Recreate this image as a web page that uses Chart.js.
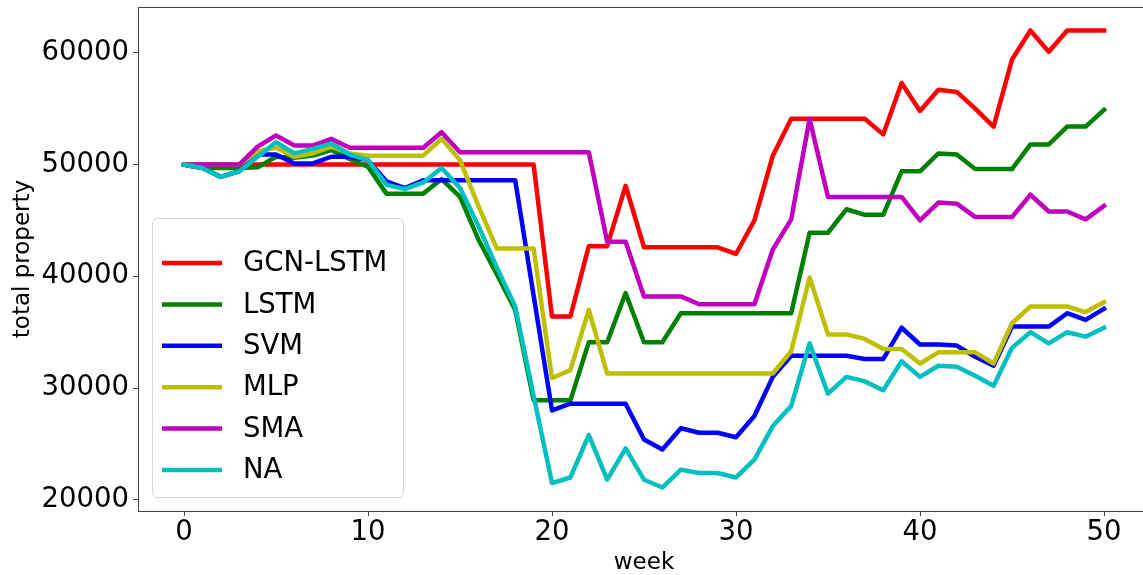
<!DOCTYPE html>
<html>
<head>
<meta charset="utf-8">
<script src="https://cdn.jsdelivr.net/npm/chart.js@4.4.0/dist/chart.umd.min.js"></script>
<style>
  html, body { margin: 0; padding: 0; background: #fff; overflow: hidden; }
  body { width: 1143px; height: 575px; }
  /* the plot runs past the right edge, like the cropped original */
  #wrap { width: 1160px; height: 575px; position: relative; }
</style>
</head>
<body>
<div id="wrap"><canvas id="chart"></canvas></div>
<script>
// weekly total property per strategy
const weeks = [0,1,2,3,4,5,6,7,8,9,10,11,12,13,14,15,16,17,18,19,20,21,22,23,24,25,26,27,28,29,30,31,32,33,34,35,36,37,38,39,40,41,42,43,44,45,46,47,48,49,50];

const gcnLstm = [50000,50000,50000,50000,50000,50000,50000,50000,50000,50000,50000,50000,50000,50000,50000,50000,50000,50000,50000,50000,
  36400,36400,42700,42700,48100,42600,42600,42600,42600,42600,42000,45000,50800,54100,54100,54100,54100,54100,52700,57300,
  54800,56700,56500,55000,53400,59400,62000,60100,62000,62000,62000];
const lstm = [50000,49700,49700,49700,49750,50700,50600,50800,51300,50500,49800,47400,47400,47400,48700,47100,43300,40200,37000,28900,
  28900,28900,34100,34100,38500,34100,34100,36700,36700,36700,36700,36700,36700,36700,43900,43900,46000,45500,45500,49400,
  49400,51000,50900,49600,49600,49600,51800,51800,53400,53400,54900];
const svm = [50000,49700,48900,49400,50900,50900,50100,50100,50700,50700,50400,48500,47900,48600,48600,48600,48600,48600,48600,38300,
  28000,28600,28600,28600,28600,25400,24500,26400,26000,26000,25600,27500,31000,32900,32900,32900,32900,32600,32600,35400,
  33900,33900,33800,32800,32000,35500,35500,35500,36700,36100,37100];
const mlp = [50000,50000,50000,50000,51200,51500,50700,51000,51600,51000,50800,50800,50800,50800,52300,50400,46300,42500,42500,42500,
  30900,31600,37000,31300,31300,31300,31300,31300,31300,31300,31300,31300,31300,33300,39900,34800,34800,34400,33500,33500,
  32200,33200,33200,33200,32200,35800,37300,37300,37300,36800,37700];
const sma = [50000,50000,50000,50000,51600,52600,51700,51700,52300,51500,51500,51500,51500,51500,52900,51100,51100,51100,51100,51100,
  51100,51100,51100,43100,43100,38200,38200,38200,37500,37500,37500,37500,42400,45100,54100,47100,47100,47100,47100,47100,
  45000,46600,46500,45300,45300,45300,47300,45800,45800,45100,46300];
const na = [50000,49700,48900,49400,50700,52000,51000,51400,51900,50900,50400,48200,47800,48400,49700,47900,44500,40800,37300,29300,
  21500,22000,25800,21800,24600,21800,21100,22700,22400,22400,22000,23600,26600,28400,34000,29500,31000,30600,29800,32400,
  31000,32000,31900,31100,30200,33600,35000,34000,35000,34600,35400];

const seriesNames = ['GCN-LSTM', 'LSTM', 'SVM', 'MLP', 'SMA', 'NA'];
const seriesValues = [gcnLstm, lstm, svm, mlp, sma, na];
const seriesColors = ['#ff0000', '#008000', '#0000ff', '#bfbf00', '#bf00bf', '#00bfbf'];

const xTicks = [0, 10, 20, 30, 40, 50];
const yTicks = [20000, 30000, 40000, 50000, 60000];

const FONT = 'DejaVu Sans';
const AXIS_COLOR = '#444';

// matplotlib-style box: top/right spines over the lines
const framePlugin = {
  id: 'frame',
  afterDatasetsDraw(chart) {
    const { ctx, chartArea: a } = chart;
    ctx.save();
    ctx.strokeStyle = AXIS_COLOR;
    ctx.lineWidth = 1;
    ctx.strokeRect(a.left + 0.5, a.top + 0.5, a.right - a.left, a.bottom - a.top);
    ctx.restore();
  }
};

// legend in the lower-left corner of the plot
const legendBox = {
  id: 'legendBox',
  afterDraw(chart) {
    const { ctx } = chart;
    const x = 152, y = 218, w = 251, h = 279, r = 5;
    ctx.save();
    ctx.beginPath();
    ctx.roundRect(x + 0.5, y + 0.5, w, h, r);
    ctx.fillStyle = 'rgba(255,255,255,0.8)';
    ctx.fill();
    ctx.strokeStyle = '#d6d6d6';
    ctx.lineWidth = 1;
    ctx.stroke();
    ctx.font = '27.5px "' + FONT + '"';
    ctx.textBaseline = 'middle';
    ctx.textAlign = 'left';
    chart.data.datasets.forEach((ds, i) => {
      const rowY = 263 + i * 41.4;
      ctx.beginPath();
      ctx.moveTo(162, rowY);
      ctx.lineTo(222, rowY);
      ctx.strokeStyle = ds.borderColor;
      ctx.lineWidth = 4.5;
      ctx.stroke();
      ctx.fillStyle = '#000';
      ctx.fillText(ds.label, 243, rowY + 1);
    });
    ctx.restore();
  }
};

const datasets = seriesNames.map((name, i) => ({
  label: name,
  data: weeks.map((w, k) => ({ x: w, y: seriesValues[i][k] })),
  borderColor: seriesColors[i],
  backgroundColor: seriesColors[i],
  borderWidth: 4.5,
  borderJoinStyle: 'round',
  borderCapStyle: 'square',
  pointRadius: 0,
  tension: 0,
  fill: false,
  order: seriesNames.length - i // later series on top, as in the original
}));

new Chart(document.getElementById('chart'), {
  type: 'line',
  data: { datasets },
  options: {
    responsive: true,
    maintainAspectRatio: false,
    animation: false,
    layout: { padding: { top: 7, right: 10, left: 0, bottom: 0 } },
    plugins: {
      legend: { display: false },
      tooltip: { enabled: false }
    },
    scales: {
      x: {
        type: 'linear',
        min: -2.5,
        max: 52.5,
        afterBuildTicks: s => { s.ticks = xTicks.map(v => ({ value: v })); },
        afterFit: s => { s.height = 64; s.paddingLeft = 0; s.paddingRight = 0; },
        ticks: {
          color: '#000',
          font: { family: FONT, size: 27.5 },
          padding: 0,
          maxRotation: 0,
          callback: v => String(v)
        },
        grid: { drawOnChartArea: false, tickLength: 5, color: AXIS_COLOR },
        border: { color: AXIS_COLOR },
        title: {
          display: true,
          text: 'week',
          color: '#000',
          font: { family: FONT, size: 23, lineHeight: 1 },
          padding: 0
        }
      },
      y: {
        min: 19000,
        max: 64100,
        afterBuildTicks: s => { s.ticks = yTicks.map(v => ({ value: v })); },
        afterFit: s => { s.width = 138; s.paddingTop = 0; s.paddingBottom = 0; },
        ticks: {
          color: '#000',
          font: { family: FONT, size: 27.5 },
          padding: 4,
          callback: v => String(v)
        },
        grid: { drawOnChartArea: false, tickLength: 5, color: AXIS_COLOR },
        border: { color: AXIS_COLOR },
        title: {
          display: true,
          text: 'total property',
          color: '#000',
          font: { family: FONT, size: 23 },
          padding: { top: 9, bottom: 0 }
        }
      }
    }
  },
  plugins: [framePlugin, legendBox]
});
</script>
</body>
</html>
